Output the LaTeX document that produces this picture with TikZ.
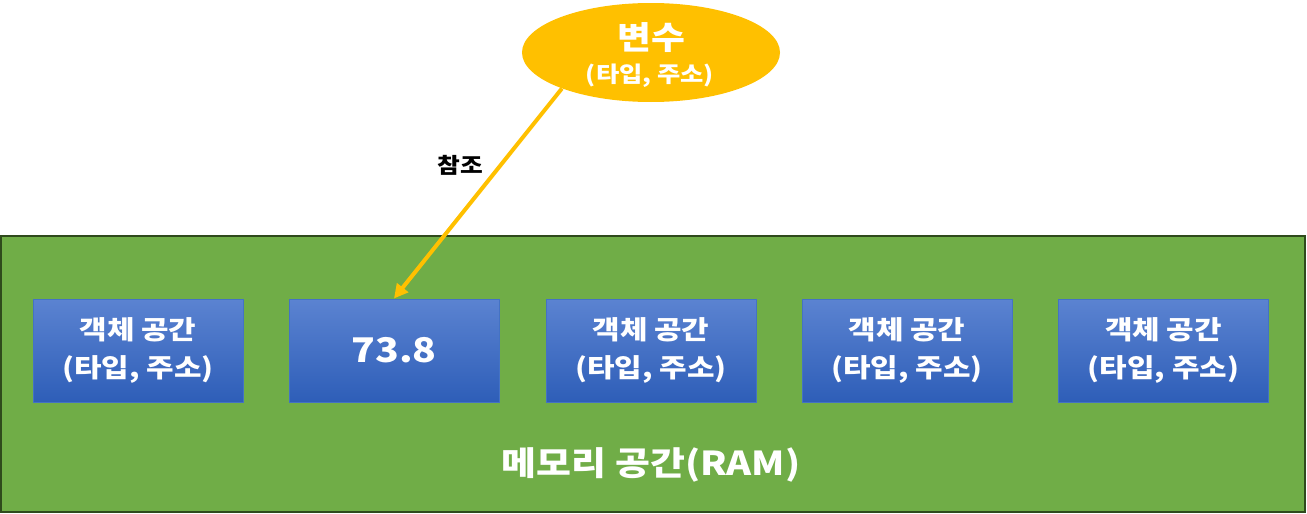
\documentclass[tikz,border=0pt]{standalone}
\usepackage{fontspec}
\setmainfont{Noto Sans CJK KR}[FakeStretch=1.15]
\usetikzlibrary{shapes.geometric,arrows.meta}
\definecolor{ramfill}{HTML}{70AD47}
\definecolor{ramline}{HTML}{2F4A1C}
\definecolor{boxtop}{HTML}{5B83D1}
\definecolor{boxbot}{HTML}{2E5EB8}
\definecolor{boxline}{HTML}{4472C4}
\definecolor{varfill}{HTML}{FFC000}
\tikzset{
  objbox/.style={draw=boxline, line width=1pt, top color=boxtop, bottom color=boxbot,
    minimum width=210pt, minimum height=103pt, inner sep=0pt, text=white,
    font=\bfseries\fontsize{26}{38}\selectfont, align=center},
  ramstyle/.style={draw=ramline, line width=2pt, fill=ramfill},
  varstyle/.style={ellipse, fill=varfill, minimum width=258pt, minimum height=99pt, inner sep=0pt, text=white, align=center},
  refarrow/.style={draw=varfill, line width=4pt, -{Triangle[length=14pt,width=14pt]}}
}
\begin{document}
\begin{tikzpicture}[x=1pt,y=-1pt]
\useasboundingbox (0,0) rectangle (1307,514);
\node[ramstyle, minimum width=1304pt, minimum height=276pt, inner sep=0pt] (ram) at (653,374) {};
\node[text=white, font=\bfseries\fontsize{33}{40}\selectfont] (ramlabel) at (651,465) {메모리 공간(RAM)};
\node[objbox] (o1) at (138,350.5) {객체 공간\\(타입, 주소)};
\node[objbox, font=\bfseries\fontsize{34}{40}\selectfont] (o2) at (394,350.5) {73.8};
\node[objbox] (o3) at (651,350.5) {객체 공간\\(타입, 주소)};
\node[objbox] (o4) at (907,350.5) {객체 공간\\(타입, 주소)};
\node[objbox] (o5) at (1163.5,350.5) {객체 공간\\(타입, 주소)};
\node[varstyle] (var) at (651,52.5) {};
\node[text=white, font=\bfseries\fontsize{32}{36}\selectfont] (vname) at (651,38) {변수};
\node[text=white, font=\bfseries\fontsize{22}{26}\selectfont] (vinfo) at (650,76) {(타입, 주소)};
\draw[refarrow] (var.202) -- (o2.north);
\node[font=\bfseries\fontsize{21.5}{26}\selectfont] (reflabel) at (460,165) {참조};
\end{tikzpicture}
\end{document}
